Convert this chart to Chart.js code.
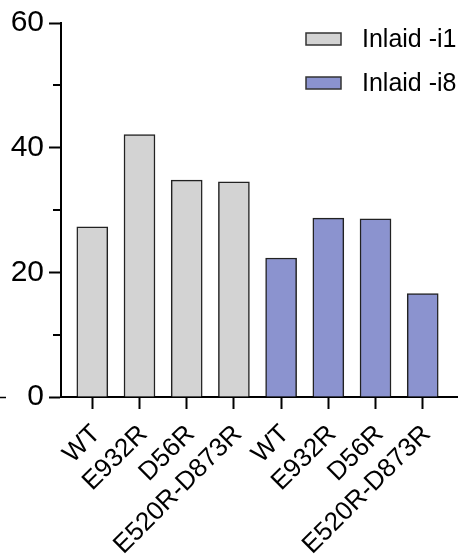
<!DOCTYPE html>
<html>
<head>
<meta charset="utf-8">
<script src="https://cdn.jsdelivr.net/npm/chart.js@4/dist/chart.umd.min.js"></script>
<style>
    html, body { margin: 0; padding: 0; background: #fff; }
    #wrap { width: 463px; height: 557px; position: relative; }
</style>
</head>
<body>
<div id="wrap"><canvas id="barChart"></canvas></div>
<script>
const groupNames = ['Inlaid -i1', 'Inlaid -i8'];
const mutants = ['WT', 'E932R', 'D56R', 'E520R-D873R'];
const i1Values = [27.3, 42.1, 34.8, 34.5];
const i8Values = [22.3, 28.7, 28.6, 16.6];
const majorTicks = [0, 20, 40, 60];
const minorTicks = [10, 30, 50];

const groupColors = ['#d3d3d3', '#8b93cf'];
const tickLabels = mutants.concat(mutants);
const positions = tickLabels.map((_, i) => i);

Chart.defaults.font.family = "'Liberation Sans', Arial, sans-serif";
Chart.defaults.color = '#000';

function toPoints(values, start) {
    return values.map((v, i) => ({ x: start + i, y: v }));
}

// minor ticks on the y axis, the legend box and the stray dash at zero
const extras = {
    id: 'extras',
    afterDraw(chart) {
        const ctx = chart.ctx;
        const y = chart.scales.y;
        const left = chart.chartArea.left;
        ctx.save();
        ctx.strokeStyle = '#000';
        ctx.lineWidth = 2;
        minorTicks.forEach(v => {
            const py = Math.round(y.getPixelForValue(v));
            ctx.beginPath();
            ctx.moveTo(left - 8, py);
            ctx.lineTo(left, py);
            ctx.stroke();
        });

        const zero = Math.round(y.getPixelForValue(0)) + 0.5;
        ctx.lineWidth = 1.5;
        ctx.beginPath();
        ctx.moveTo(0, zero);
        ctx.lineTo(6, zero);
        ctx.stroke();

        ctx.font = "25px 'Liberation Sans', Arial, sans-serif";
        ctx.textBaseline = 'middle';
        ctx.textAlign = 'left';
        chart.data.datasets.forEach((ds, i) => {
            const cy = 39 + i * 44;
            ctx.fillStyle = ds.backgroundColor;
            ctx.fillRect(306, cy - 6, 35, 12);
            ctx.strokeStyle = '#333';
            ctx.lineWidth = 1.5;
            ctx.strokeRect(306, cy - 6, 35, 12);
            ctx.fillStyle = '#000';
            ctx.fillText(ds.label, 362, cy + 1);
        });
        ctx.restore();
    }
};

new Chart(document.getElementById('barChart'), {
    type: 'bar',
    data: {
        datasets: [
            {
                label: groupNames[0],
                data: toPoints(i1Values, 0),
                backgroundColor: groupColors[0],
                borderColor: '#222',
                borderWidth: 1.5,
                barThickness: 31,
                grouped: false
            },
            {
                label: groupNames[1],
                data: toPoints(i8Values, 4),
                backgroundColor: groupColors[1],
                borderColor: '#222',
                borderWidth: 1.5,
                barThickness: 31,
                grouped: false
            }
        ]
    },
    options: {
        responsive: true,
        maintainAspectRatio: false,
        animation: false,
        layout: { padding: { top: 21, right: 6, left: 0, bottom: 0 } },
        plugins: {
            legend: { display: false },
            tooltip: { enabled: false }
        },
        scales: {
            x: {
                type: 'linear',
                offset: false,
                min: -0.663,
                max: 7.726,
                afterBuildTicks: scale => {
                    scale.ticks = positions.map(v => ({ value: v }));
                },
                afterFit: scale => { scale.height = 160; },
                ticks: {
                    autoSkip: false,
                    minRotation: 45,
                    maxRotation: 45,
                    padding: 10,
                    labelOffset: 4,
                    font: { size: 26 },
                    callback: value => tickLabels[value]
                },
                grid: {
                    offset: false,
                    drawOnChartArea: false,
                    drawTicks: true,
                    tickLength: 12,
                    tickWidth: 2,
                    tickColor: '#000'
                },
                border: { color: '#000', width: 2 }
            },
            y: {
                min: 0,
                max: 60,
                afterBuildTicks: scale => {
                    scale.ticks = majorTicks.map(v => ({ value: v }));
                },
                afterFit: scale => { scale.width = 61; },
                ticks: {
                    padding: 5,
                    font: { size: 30 }
                },
                grid: {
                    drawOnChartArea: false,
                    drawTicks: true,
                    tickLength: 12,
                    tickWidth: 2,
                    tickColor: '#000'
                },
                border: { color: '#000', width: 2 }
            }
        }
    },
    plugins: [extras]
});
</script>
</body>
</html>
